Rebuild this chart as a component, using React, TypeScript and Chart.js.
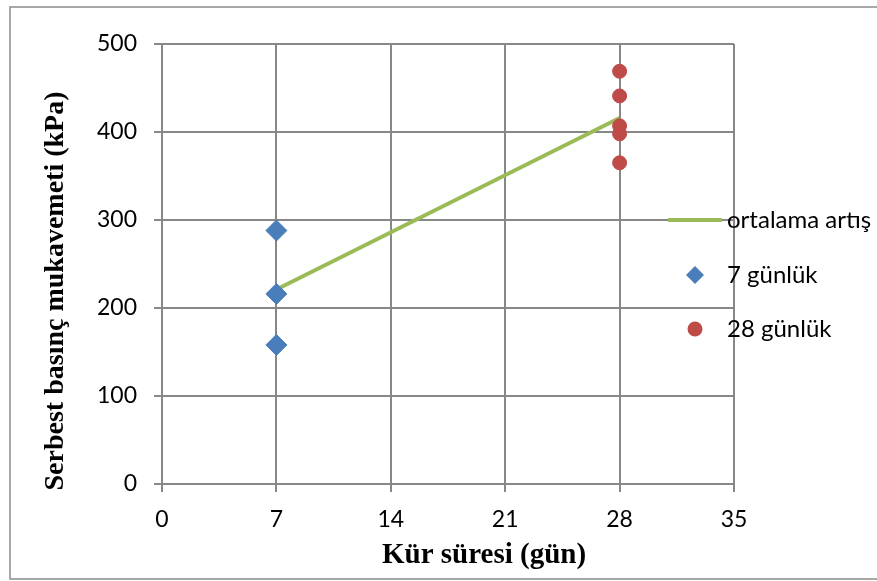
import React, { useEffect, useRef } from 'react';
import { Chart, registerables } from 'chart.js';

Chart.register(...registerables);

// ---- data ----
const xTicks = [0, 7, 14, 21, 28, 35];
const yTicks = [0, 100, 200, 300, 400, 500];
const days7 = [7, 7, 7];
const values7 = [288, 216, 158];
const days28 = [28, 28, 28, 28, 28];
const values28 = [469, 441, 407, 398, 365];
const avgDays = [7, 28];
const avgValues = [221, 416];
const seriesNames = ['ortalama artış', '7 günlük', '28 günlük'];
const xTitle = 'Kür süresi (gün)';
const yTitle = 'Serbest basınç mukavemeti (kPa)';

// ---- styles ----
const GREEN = '#9bbb59';
const BLUE = '#4a7ebb';
const RED = '#be4b48';
const GRID = '#878787';
const SANS = 'Lato';
const SERIF = '"Liberation Serif", "Times New Roman", serif';

const framePlugin = {
  id: 'frame',
  beforeDraw(chart: any) {
    const { ctx, width, height } = chart;
    ctx.save();
    ctx.fillStyle = '#ffffff';
    ctx.fillRect(0, 0, width, height);
    ctx.strokeStyle = '#8c8c8c';
    ctx.lineWidth = 1.5;
    ctx.strokeRect(10, 7, width + 20, 572);
    ctx.restore();
  },
};

const titlesPlugin = {
  id: 'titles',
  afterDraw(chart: any) {
    const { ctx } = chart;
    ctx.save();
    ctx.fillStyle = '#000000';
    ctx.textAlign = 'center';
    ctx.textBaseline = 'alphabetic';
    ctx.font = `bold 29px ${SERIF}`;
    ctx.fillText(xTitle, 484, 563);
    ctx.translate(63, 291);
    ctx.rotate(-Math.PI / 2);
    ctx.font = `bold 28px ${SERIF}`;
    ctx.fillText(yTitle, 0, 0);
    ctx.restore();
  },
};

const legendPlugin = {
  id: 'customLegend',
  afterDatasetsDraw(chart: any) {
    const { ctx, chartArea } = chart;
    const r = chartArea.right;
    const t = chartArea.top;
    const textX = r - 7;
    const rows = [t + 176, t + 231, t + 285];
    ctx.save();
    // line item
    ctx.strokeStyle = GREEN;
    ctx.lineWidth = 4;
    ctx.beginPath();
    ctx.moveTo(r - 66, rows[0]);
    ctx.lineTo(r - 12, rows[0]);
    ctx.stroke();
    // diamond
    ctx.fillStyle = BLUE;
    const cx = r - 39;
    const d = 9;
    ctx.beginPath();
    ctx.moveTo(cx - d, rows[1]);
    ctx.lineTo(cx, rows[1] - d);
    ctx.lineTo(cx + d, rows[1]);
    ctx.lineTo(cx, rows[1] + d);
    ctx.closePath();
    ctx.fill();
    // circle
    ctx.fillStyle = RED;
    ctx.beginPath();
    ctx.arc(cx, rows[2], 7.5, 0, Math.PI * 2);
    ctx.fill();
    // texts
    ctx.fillStyle = '#000000';
    ctx.font = `24px ${SANS}`;
    ctx.textAlign = 'left';
    ctx.textBaseline = 'middle';
    seriesNames.forEach((name, i) => ctx.fillText(name, textX, rows[i]));
    ctx.restore();
  },
};

export default function App() {
  const ref = useRef<HTMLCanvasElement | null>(null);

  useEffect(() => {
    if (!ref.current) return;
    Chart.defaults.font.family = SANS;
    const chart = new Chart(ref.current, {
      type: 'scatter',
      data: {
        datasets: [
          {
            type: 'line',
            label: seriesNames[0],
            data: avgDays.map((x, i) => ({ x, y: avgValues[i] })),
            borderColor: GREEN,
            backgroundColor: GREEN,
            borderWidth: 4,
            pointRadius: 0,
            fill: false,
            order: 2,
          } as any,
          {
            label: seriesNames[1],
            data: days7.map((x, i) => ({ x, y: values7[i] })),
            pointStyle: 'rectRot',
            pointRadius: 10.5,
            backgroundColor: BLUE,
            borderColor: BLUE,
            borderWidth: 1,
            order: 1,
          },
          {
            label: seriesNames[2],
            data: days28.map((x, i) => ({ x, y: values28[i] })),
            pointStyle: 'circle',
            pointRadius: 7,
            backgroundColor: RED,
            borderColor: RED,
            borderWidth: 1,
            order: 1,
          },
        ],
      },
      options: {
        animation: false,
        responsive: false,
        devicePixelRatio: 1,
        layout: { padding: { top: 44, right: 143, bottom: 0, left: 0 } },
        plugins: {
          legend: { display: false },
          tooltip: { enabled: false },
        },
        scales: {
          x: {
            type: 'linear',
            min: xTicks[0],
            max: xTicks[xTicks.length - 1],
            afterBuildTicks: (s: any) => {
              s.ticks = xTicks.map((v) => ({ value: v }));
            },
            afterFit: (s: any) => {
              s.height = 97;
            },
            ticks: { color: '#000', font: { size: 23, family: SANS }, padding: 14, maxRotation: 0 },
            grid: { color: GRID, lineWidth: 2, tickLength: 8, tickColor: GRID },
            border: { color: GRID, width: 2 },
          },
          y: {
            type: 'linear',
            min: yTicks[0],
            max: yTicks[yTicks.length - 1],
            afterBuildTicks: (s: any) => {
              s.ticks = yTicks.map((v) => ({ value: v }));
            },
            afterFit: (s: any) => {
              s.width = 162;
            },
            ticks: { color: '#000', font: { size: 23, family: SANS }, padding: 17 },
            grid: { color: GRID, lineWidth: 2, tickLength: 8, tickColor: GRID },
            border: { color: GRID, width: 2 },
          },
        },
      },
      plugins: [framePlugin, legendPlugin, titlesPlugin],
    });
    return () => chart.destroy();
  }, []);

  return (
    <div style={{ position: 'fixed', left: 0, top: 0, width: 877, height: 581, background: '#fff' }}>
      <canvas ref={ref} width={877} height={581} style={{ display: 'block' }} />
    </div>
  );
}
